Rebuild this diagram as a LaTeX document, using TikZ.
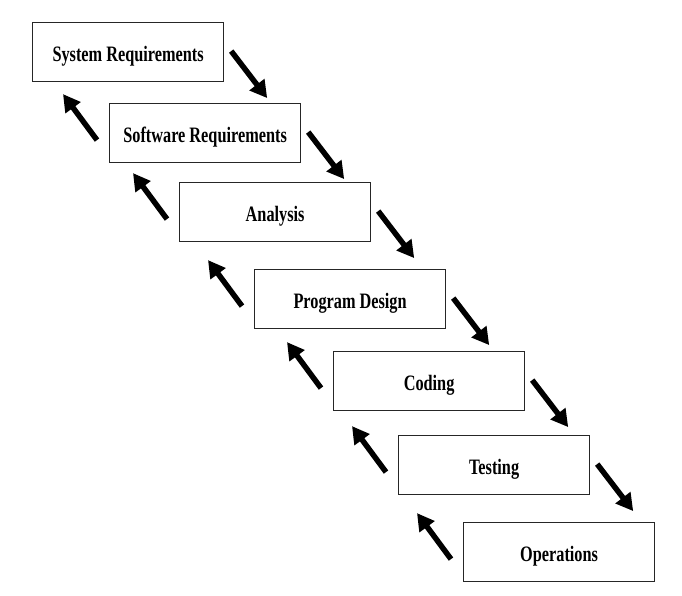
\documentclass[tikz,border=0pt]{standalone}
\usepackage{fontspec}
\setmainfont[FakeStretch=0.74]{Liberation Serif}
\usetikzlibrary{arrows.meta,calc}
\tikzset{
  stage/.style={draw=black!85, line width=1.2pt, fill=white, minimum width=191pt, minimum height=59pt,
    inner sep=0pt, text height=18pt, text depth=0pt, anchor=north west,
    font=\fontsize{22pt}{26pt}\selectfont\bfseries},
  flow/.style={line width=5.5pt, -{Triangle[length=17pt,width=18pt]}, black}
}
\begin{document}
\begin{tikzpicture}[x=1pt,y=-1pt]
\useasboundingbox[fill=white] (0,0) rectangle (682,596);
\node[stage] (b1) at (32,22) {System Requirements};
\node[stage] (b2) at (109,103) {Software Requirements};
\node[stage] (b3) at (179,182) {Analysis};
\node[stage] (b4) at (254,269) {Program Design};
\node[stage] (b5) at (333,351) {Coding};
\node[stage] (b6) at (398,435) {Testing};
\node[stage] (b7) at (463,522) {Operations};
\foreach \a/\b in {b1/b2,b2/b3,b3/b4,b4/b5,b5/b6,b6/b7}{
  \coordinate (s-\a) at ($(\a.east)+(7,-1)$);
  \draw[flow] (s-\a) -- ($(s-\a)+(36,47)$);
  \coordinate (t-\b) at ($(\b.west)+(-12,7)$);
  \draw[flow] (t-\b) -- ($(t-\b)+(-34,-46)$);
}
\end{tikzpicture}
\end{document}
